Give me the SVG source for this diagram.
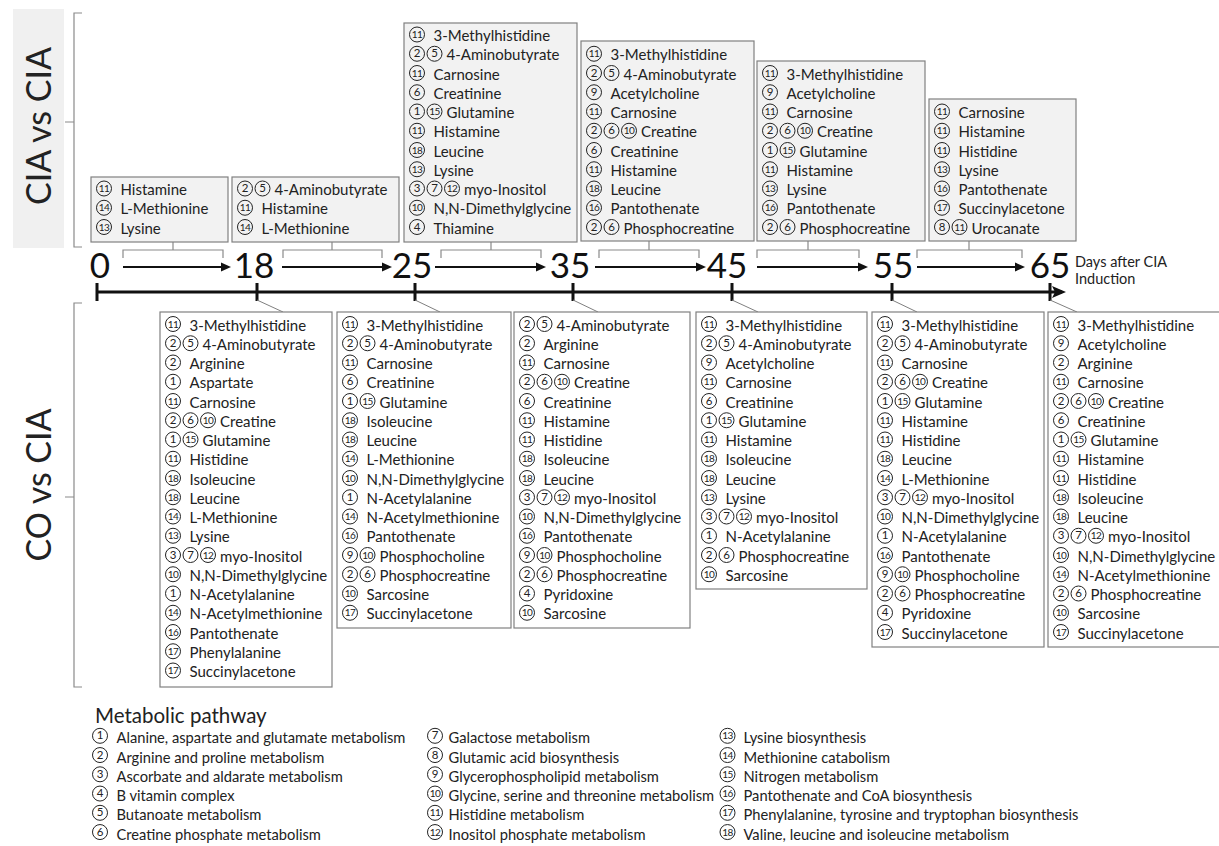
<svg xmlns="http://www.w3.org/2000/svg" width="1219" height="846" viewBox="0 0 1219 846">
<style>
.t{font-family:Lato,"Noto Sans",sans-serif;font-size:15px;fill:#222}
.lt{font-size:14.7px}
.n{font-family:Lato,"Noto Sans",sans-serif;font-size:11.5px;fill:#222;text-anchor:middle}
.d{font-size:10px;letter-spacing:-0.6px}
.big{font-family:Lato,"Noto Sans",sans-serif;font-size:34px;fill:#222}
.num{font-family:Lato,"Noto Sans",sans-serif;font-size:35px;fill:#111}
.bt{fill:#f2f2f2;stroke:#808080;stroke-width:1.2}
.bb{fill:#fff;stroke:#808080;stroke-width:1.2}
.br{fill:none;stroke:#8a8a8a;stroke-width:1.2}
.ar{stroke:#111;stroke-width:2.2;fill:none}
.ax{stroke:#111;stroke-width:3;fill:none}
.dg{stroke:#808080;stroke-width:1;fill:none}
</style>
<defs>
<circle id="k" cx="0" cy="-6.5" r="7.5" fill="none" stroke="#222" stroke-width="1"/>
<marker id="ah" markerWidth="10" markerHeight="10" refX="7" refY="5" orient="auto" markerUnits="userSpaceOnUse"><path d="M0,0.5 L10,5 L0,9.5 z" fill="#111"/></marker>
<marker id="ah2" markerWidth="14" markerHeight="12" refX="10" refY="6" orient="auto" markerUnits="userSpaceOnUse"><path d="M0,0 L14,6 L0,12 L3,6 z" fill="#111"/></marker>
</defs>

<g id="labels">
<rect x="13" y="9" width="51" height="239" fill="#f0f0f0"/>
<text class="big" transform="translate(51,126) rotate(-90)" text-anchor="middle">CIA vs CIA</text>
<text class="big" transform="translate(51,485) rotate(-90)" text-anchor="middle">CO vs CIA</text>
<path class="br" d="M82,13 H74 V247 H82 M74,122 H65"/>
<path class="br" d="M82,303 H74 V687 H82 M74,497 H65"/>
</g>

<g id="axis">
<line class="ax" x1="96" y1="292" x2="1062" y2="292" marker-end="url(#ah2)"/>
<path class="ax" d="M97,283 V301 M257,283 V301 M415,283 V301 M573,283 V301 M732,283 V301 M892,283 V301 M1050,283 V301"/>
<text class="num" x="100" y="278" text-anchor="middle">0</text>
<text class="num" x="254" y="278" text-anchor="middle">18</text>
<text class="num" x="412" y="278" text-anchor="middle">25</text>
<text class="num" x="570" y="278" text-anchor="middle">35</text>
<text class="num" x="727" y="278" text-anchor="middle">45</text>
<text class="num" x="893" y="278" text-anchor="middle">55</text>
<text class="num" x="1050" y="278" text-anchor="middle">65</text>
<text class="t" x="1075" y="267" style="font-size:14.5px">Days after CIA</text>
<text class="t" x="1075" y="284" style="font-size:14.5px">Induction</text>
</g>

<g id="connectors">
<line class="ar" x1="123" y1="267" x2="228" y2="267" marker-end="url(#ah)"/>
<line class="ar" x1="282" y1="267" x2="389" y2="267" marker-end="url(#ah)"/>
<line class="ar" x1="435" y1="267" x2="543" y2="267" marker-end="url(#ah)"/>
<line class="ar" x1="595" y1="267" x2="703" y2="267" marker-end="url(#ah)"/>
<line class="ar" x1="757" y1="267" x2="865" y2="267" marker-end="url(#ah)"/>
<line class="ar" x1="917" y1="267" x2="1022" y2="267" marker-end="url(#ah)"/>
<path class="br" d="M123,258 V250 H223 V258 M173,242 V250"/>
<path class="br" d="M283,258 V250 H382 V258 M332,242 V250"/>
<path class="br" d="M441,258 V250 H541 V258 M491,242 V250"/>
<path class="br" d="M599,258 V250 H699 V258 M649,241 V250"/>
<path class="br" d="M757,258 V250 H859 V258 M808,241 V250"/>
<path class="br" d="M917,258 V250 H1022 V258 M969,241 V250"/>
<path class="dg" d="M257,300 L283,312 M415,300 L440,312 M573,300 L598,312 M732,300 L758,312 M892,300 L917,312 M1050,300 L1077,312"/>
</g>

<g id="t1">
<rect class="bt" x="91" y="177" width="137" height="65"/>
<g transform="translate(104,195)"><use href="#k"/><text class="n" y="-2.9"><tspan class="d">11</tspan></text><text class="t" x="16.5">Histamine</text></g>
<g transform="translate(104,214.25)"><use href="#k"/><text class="n" y="-2.9"><tspan class="d">14</tspan></text><text class="t" x="16.5">L-Methionine</text></g>
<g transform="translate(104,233.5)"><use href="#k"/><text class="n" y="-2.9"><tspan class="d">13</tspan></text><text class="t" x="16.5">Lysine</text></g>
</g>
<g id="t2">
<rect class="bt" x="232" y="177" width="167" height="65"/>
<g transform="translate(245,195)"><use href="#k"/><use href="#k" x="17.5"/><text class="n" y="-2.9"><tspan x="0">2</tspan><tspan x="17.5">5</tspan></text><text class="t" x="29.5">4-Aminobutyrate</text></g>
<g transform="translate(245,214.25)"><use href="#k"/><text class="n" y="-2.9"><tspan class="d">11</tspan></text><text class="t" x="16.5">Histamine</text></g>
<g transform="translate(245,233.5)"><use href="#k"/><text class="n" y="-2.9"><tspan class="d">14</tspan></text><text class="t" x="16.5">L-Methionine</text></g>
</g>
<g id="t3">
<rect class="bt" x="404" y="23" width="173" height="219"/>
<g transform="translate(417,41)"><use href="#k"/><text class="n" y="-2.9"><tspan class="d">11</tspan></text><text class="t" x="16.5">3-Methylhistidine</text></g>
<g transform="translate(417,60.25)"><use href="#k"/><use href="#k" x="17.5"/><text class="n" y="-2.9"><tspan x="0">2</tspan><tspan x="17.5">5</tspan></text><text class="t" x="29.5">4-Aminobutyrate</text></g>
<g transform="translate(417,79.5)"><use href="#k"/><text class="n" y="-2.9"><tspan class="d">11</tspan></text><text class="t" x="16.5">Carnosine</text></g>
<g transform="translate(417,98.75)"><use href="#k"/><text class="n" y="-2.9">6</text><text class="t" x="16.5">Creatinine</text></g>
<g transform="translate(417,118)"><use href="#k"/><use href="#k" x="17.5"/><text class="n" y="-2.9"><tspan x="0">1</tspan><tspan x="17.5" class="d">15</tspan></text><text class="t" x="29.5">Glutamine</text></g>
<g transform="translate(417,137.25)"><use href="#k"/><text class="n" y="-2.9"><tspan class="d">11</tspan></text><text class="t" x="16.5">Histamine</text></g>
<g transform="translate(417,156.5)"><use href="#k"/><text class="n" y="-2.9"><tspan class="d">18</tspan></text><text class="t" x="16.5">Leucine</text></g>
<g transform="translate(417,175.75)"><use href="#k"/><text class="n" y="-2.9"><tspan class="d">13</tspan></text><text class="t" x="16.5">Lysine</text></g>
<g transform="translate(417,195)"><use href="#k"/><use href="#k" x="17.5"/><use href="#k" x="35"/><text class="n" y="-2.9"><tspan x="0">3</tspan><tspan x="17.5">7</tspan><tspan x="35" class="d">12</tspan></text><text class="t" x="47">myo-Inositol</text></g>
<g transform="translate(417,214.25)"><use href="#k"/><text class="n" y="-2.9"><tspan class="d">10</tspan></text><text class="t" x="16.5">N,N-Dimethylglycine</text></g>
<g transform="translate(417,233.5)"><use href="#k"/><text class="n" y="-2.9">4</text><text class="t" x="16.5">Thiamine</text></g>
</g>
<g id="t4">
<rect class="bt" x="581" y="41" width="173" height="200"/>
<g transform="translate(594,60.25)"><use href="#k"/><text class="n" y="-2.9"><tspan class="d">11</tspan></text><text class="t" x="16.5">3-Methylhistidine</text></g>
<g transform="translate(594,79.5)"><use href="#k"/><use href="#k" x="17.5"/><text class="n" y="-2.9"><tspan x="0">2</tspan><tspan x="17.5">5</tspan></text><text class="t" x="29.5">4-Aminobutyrate</text></g>
<g transform="translate(594,98.75)"><use href="#k"/><text class="n" y="-2.9">9</text><text class="t" x="16.5">Acetylcholine</text></g>
<g transform="translate(594,118)"><use href="#k"/><text class="n" y="-2.9"><tspan class="d">11</tspan></text><text class="t" x="16.5">Carnosine</text></g>
<g transform="translate(594,137.25)"><use href="#k"/><use href="#k" x="17.5"/><use href="#k" x="35"/><text class="n" y="-2.9"><tspan x="0">2</tspan><tspan x="17.5">6</tspan><tspan x="35" class="d">10</tspan></text><text class="t" x="47">Creatine</text></g>
<g transform="translate(594,156.5)"><use href="#k"/><text class="n" y="-2.9">6</text><text class="t" x="16.5">Creatinine</text></g>
<g transform="translate(594,175.75)"><use href="#k"/><text class="n" y="-2.9"><tspan class="d">11</tspan></text><text class="t" x="16.5">Histamine</text></g>
<g transform="translate(594,195)"><use href="#k"/><text class="n" y="-2.9"><tspan class="d">18</tspan></text><text class="t" x="16.5">Leucine</text></g>
<g transform="translate(594,214.25)"><use href="#k"/><text class="n" y="-2.9"><tspan class="d">16</tspan></text><text class="t" x="16.5">Pantothenate</text></g>
<g transform="translate(594,233.5)"><use href="#k"/><use href="#k" x="17.5"/><text class="n" y="-2.9"><tspan x="0">2</tspan><tspan x="17.5">6</tspan></text><text class="t" x="29.5">Phosphocreatine</text></g>
</g>
<g id="t5">
<rect class="bt" x="757" y="61" width="168" height="180"/>
<g transform="translate(770,79.5)"><use href="#k"/><text class="n" y="-2.9"><tspan class="d">11</tspan></text><text class="t" x="16.5">3-Methylhistidine</text></g>
<g transform="translate(770,98.75)"><use href="#k"/><text class="n" y="-2.9">9</text><text class="t" x="16.5">Acetylcholine</text></g>
<g transform="translate(770,118)"><use href="#k"/><text class="n" y="-2.9"><tspan class="d">11</tspan></text><text class="t" x="16.5">Carnosine</text></g>
<g transform="translate(770,137.25)"><use href="#k"/><use href="#k" x="17.5"/><use href="#k" x="35"/><text class="n" y="-2.9"><tspan x="0">2</tspan><tspan x="17.5">6</tspan><tspan x="35" class="d">10</tspan></text><text class="t" x="47">Creatine</text></g>
<g transform="translate(770,156.5)"><use href="#k"/><use href="#k" x="17.5"/><text class="n" y="-2.9"><tspan x="0">1</tspan><tspan x="17.5" class="d">15</tspan></text><text class="t" x="29.5">Glutamine</text></g>
<g transform="translate(770,175.75)"><use href="#k"/><text class="n" y="-2.9"><tspan class="d">11</tspan></text><text class="t" x="16.5">Histamine</text></g>
<g transform="translate(770,195)"><use href="#k"/><text class="n" y="-2.9"><tspan class="d">13</tspan></text><text class="t" x="16.5">Lysine</text></g>
<g transform="translate(770,214.25)"><use href="#k"/><text class="n" y="-2.9"><tspan class="d">16</tspan></text><text class="t" x="16.5">Pantothenate</text></g>
<g transform="translate(770,233.5)"><use href="#k"/><use href="#k" x="17.5"/><text class="n" y="-2.9"><tspan x="0">2</tspan><tspan x="17.5">6</tspan></text><text class="t" x="29.5">Phosphocreatine</text></g>
</g>
<g id="t6">
<rect class="bt" x="929" y="99" width="147" height="142"/>
<g transform="translate(942,118)"><use href="#k"/><text class="n" y="-2.9"><tspan class="d">11</tspan></text><text class="t" x="16.5">Carnosine</text></g>
<g transform="translate(942,137.25)"><use href="#k"/><text class="n" y="-2.9"><tspan class="d">11</tspan></text><text class="t" x="16.5">Histamine</text></g>
<g transform="translate(942,156.5)"><use href="#k"/><text class="n" y="-2.9"><tspan class="d">11</tspan></text><text class="t" x="16.5">Histidine</text></g>
<g transform="translate(942,175.75)"><use href="#k"/><text class="n" y="-2.9"><tspan class="d">13</tspan></text><text class="t" x="16.5">Lysine</text></g>
<g transform="translate(942,195)"><use href="#k"/><text class="n" y="-2.9"><tspan class="d">16</tspan></text><text class="t" x="16.5">Pantothenate</text></g>
<g transform="translate(942,214.25)"><use href="#k"/><text class="n" y="-2.9"><tspan class="d">17</tspan></text><text class="t" x="16.5">Succinylacetone</text></g>
<g transform="translate(942,233.5)"><use href="#k"/><use href="#k" x="17.5"/><text class="n" y="-2.9"><tspan x="0">8</tspan><tspan x="17.5" class="d">11</tspan></text><text class="t" x="29.5">Urocanate</text></g>
</g>

<g id="b1">
<rect class="bb" x="160" y="312" width="172" height="375"/>
<g transform="translate(173,330.5)"><use href="#k"/><text class="n" y="-2.9"><tspan class="d">11</tspan></text><text class="t" x="16.5">3-Methylhistidine</text></g>
<g transform="translate(173,349.75)"><use href="#k"/><use href="#k" x="17.5"/><text class="n" y="-2.9"><tspan x="0">2</tspan><tspan x="17.5">5</tspan></text><text class="t" x="29.5">4-Aminobutyrate</text></g>
<g transform="translate(173,369)"><use href="#k"/><text class="n" y="-2.9">2</text><text class="t" x="16.5">Arginine</text></g>
<g transform="translate(173,388.25)"><use href="#k"/><text class="n" y="-2.9">1</text><text class="t" x="16.5">Aspartate</text></g>
<g transform="translate(173,407.5)"><use href="#k"/><text class="n" y="-2.9"><tspan class="d">11</tspan></text><text class="t" x="16.5">Carnosine</text></g>
<g transform="translate(173,426.75)"><use href="#k"/><use href="#k" x="17.5"/><use href="#k" x="35"/><text class="n" y="-2.9"><tspan x="0">2</tspan><tspan x="17.5">6</tspan><tspan x="35" class="d">10</tspan></text><text class="t" x="47">Creatine</text></g>
<g transform="translate(173,446)"><use href="#k"/><use href="#k" x="17.5"/><text class="n" y="-2.9"><tspan x="0">1</tspan><tspan x="17.5" class="d">15</tspan></text><text class="t" x="29.5">Glutamine</text></g>
<g transform="translate(173,465.25)"><use href="#k"/><text class="n" y="-2.9"><tspan class="d">11</tspan></text><text class="t" x="16.5">Histidine</text></g>
<g transform="translate(173,484.5)"><use href="#k"/><text class="n" y="-2.9"><tspan class="d">18</tspan></text><text class="t" x="16.5">Isoleucine</text></g>
<g transform="translate(173,503.75)"><use href="#k"/><text class="n" y="-2.9"><tspan class="d">18</tspan></text><text class="t" x="16.5">Leucine</text></g>
<g transform="translate(173,523)"><use href="#k"/><text class="n" y="-2.9"><tspan class="d">14</tspan></text><text class="t" x="16.5">L-Methionine</text></g>
<g transform="translate(173,542.25)"><use href="#k"/><text class="n" y="-2.9"><tspan class="d">13</tspan></text><text class="t" x="16.5">Lysine</text></g>
<g transform="translate(173,561.5)"><use href="#k"/><use href="#k" x="17.5"/><use href="#k" x="35"/><text class="n" y="-2.9"><tspan x="0">3</tspan><tspan x="17.5">7</tspan><tspan x="35" class="d">12</tspan></text><text class="t" x="47">myo-Inositol</text></g>
<g transform="translate(173,580.75)"><use href="#k"/><text class="n" y="-2.9"><tspan class="d">10</tspan></text><text class="t" x="16.5">N,N-Dimethylglycine</text></g>
<g transform="translate(173,600)"><use href="#k"/><text class="n" y="-2.9">1</text><text class="t" x="16.5">N-Acetylalanine</text></g>
<g transform="translate(173,619.25)"><use href="#k"/><text class="n" y="-2.9"><tspan class="d">14</tspan></text><text class="t" x="16.5">N-Acetylmethionine</text></g>
<g transform="translate(173,638.5)"><use href="#k"/><text class="n" y="-2.9"><tspan class="d">16</tspan></text><text class="t" x="16.5">Pantothenate</text></g>
<g transform="translate(173,657.75)"><use href="#k"/><text class="n" y="-2.9"><tspan class="d">17</tspan></text><text class="t" x="16.5">Phenylalanine</text></g>
<g transform="translate(173,677)"><use href="#k"/><text class="n" y="-2.9"><tspan class="d">17</tspan></text><text class="t" x="16.5">Succinylacetone</text></g>
</g>
<g id="b2">
<rect class="bb" x="337" y="312" width="174" height="316"/>
<g transform="translate(350,330.5)"><use href="#k"/><text class="n" y="-2.9"><tspan class="d">11</tspan></text><text class="t" x="16.5">3-Methylhistidine</text></g>
<g transform="translate(350,349.75)"><use href="#k"/><use href="#k" x="17.5"/><text class="n" y="-2.9"><tspan x="0">2</tspan><tspan x="17.5">5</tspan></text><text class="t" x="29.5">4-Aminobutyrate</text></g>
<g transform="translate(350,369)"><use href="#k"/><text class="n" y="-2.9"><tspan class="d">11</tspan></text><text class="t" x="16.5">Carnosine</text></g>
<g transform="translate(350,388.25)"><use href="#k"/><text class="n" y="-2.9">6</text><text class="t" x="16.5">Creatinine</text></g>
<g transform="translate(350,407.5)"><use href="#k"/><use href="#k" x="17.5"/><text class="n" y="-2.9"><tspan x="0">1</tspan><tspan x="17.5" class="d">15</tspan></text><text class="t" x="29.5">Glutamine</text></g>
<g transform="translate(350,426.75)"><use href="#k"/><text class="n" y="-2.9"><tspan class="d">18</tspan></text><text class="t" x="16.5">Isoleucine</text></g>
<g transform="translate(350,446)"><use href="#k"/><text class="n" y="-2.9"><tspan class="d">18</tspan></text><text class="t" x="16.5">Leucine</text></g>
<g transform="translate(350,465.25)"><use href="#k"/><text class="n" y="-2.9"><tspan class="d">14</tspan></text><text class="t" x="16.5">L-Methionine</text></g>
<g transform="translate(350,484.5)"><use href="#k"/><text class="n" y="-2.9"><tspan class="d">10</tspan></text><text class="t" x="16.5">N,N-Dimethylglycine</text></g>
<g transform="translate(350,503.75)"><use href="#k"/><text class="n" y="-2.9">1</text><text class="t" x="16.5">N-Acetylalanine</text></g>
<g transform="translate(350,523)"><use href="#k"/><text class="n" y="-2.9"><tspan class="d">14</tspan></text><text class="t" x="16.5">N-Acetylmethionine</text></g>
<g transform="translate(350,542.25)"><use href="#k"/><text class="n" y="-2.9"><tspan class="d">16</tspan></text><text class="t" x="16.5">Pantothenate</text></g>
<g transform="translate(350,561.5)"><use href="#k"/><use href="#k" x="17.5"/><text class="n" y="-2.9"><tspan x="0">9</tspan><tspan x="17.5" class="d">10</tspan></text><text class="t" x="29.5">Phosphocholine</text></g>
<g transform="translate(350,580.75)"><use href="#k"/><use href="#k" x="17.5"/><text class="n" y="-2.9"><tspan x="0">2</tspan><tspan x="17.5">6</tspan></text><text class="t" x="29.5">Phosphocreatine</text></g>
<g transform="translate(350,600)"><use href="#k"/><text class="n" y="-2.9"><tspan class="d">10</tspan></text><text class="t" x="16.5">Sarcosine</text></g>
<g transform="translate(350,619.25)"><use href="#k"/><text class="n" y="-2.9"><tspan class="d">17</tspan></text><text class="t" x="16.5">Succinylacetone</text></g>
</g>
<g id="b3">
<rect class="bb" x="514" y="312" width="176" height="316"/>
<g transform="translate(527,330.5)"><use href="#k"/><use href="#k" x="17.5"/><text class="n" y="-2.9"><tspan x="0">2</tspan><tspan x="17.5">5</tspan></text><text class="t" x="29.5">4-Aminobutyrate</text></g>
<g transform="translate(527,349.75)"><use href="#k"/><text class="n" y="-2.9">2</text><text class="t" x="16.5">Arginine</text></g>
<g transform="translate(527,369)"><use href="#k"/><text class="n" y="-2.9"><tspan class="d">11</tspan></text><text class="t" x="16.5">Carnosine</text></g>
<g transform="translate(527,388.25)"><use href="#k"/><use href="#k" x="17.5"/><use href="#k" x="35"/><text class="n" y="-2.9"><tspan x="0">2</tspan><tspan x="17.5">6</tspan><tspan x="35" class="d">10</tspan></text><text class="t" x="47">Creatine</text></g>
<g transform="translate(527,407.5)"><use href="#k"/><text class="n" y="-2.9">6</text><text class="t" x="16.5">Creatinine</text></g>
<g transform="translate(527,426.75)"><use href="#k"/><text class="n" y="-2.9"><tspan class="d">11</tspan></text><text class="t" x="16.5">Histamine</text></g>
<g transform="translate(527,446)"><use href="#k"/><text class="n" y="-2.9"><tspan class="d">11</tspan></text><text class="t" x="16.5">Histidine</text></g>
<g transform="translate(527,465.25)"><use href="#k"/><text class="n" y="-2.9"><tspan class="d">18</tspan></text><text class="t" x="16.5">Isoleucine</text></g>
<g transform="translate(527,484.5)"><use href="#k"/><text class="n" y="-2.9"><tspan class="d">18</tspan></text><text class="t" x="16.5">Leucine</text></g>
<g transform="translate(527,503.75)"><use href="#k"/><use href="#k" x="17.5"/><use href="#k" x="35"/><text class="n" y="-2.9"><tspan x="0">3</tspan><tspan x="17.5">7</tspan><tspan x="35" class="d">12</tspan></text><text class="t" x="47">myo-Inositol</text></g>
<g transform="translate(527,523)"><use href="#k"/><text class="n" y="-2.9"><tspan class="d">10</tspan></text><text class="t" x="16.5">N,N-Dimethylglycine</text></g>
<g transform="translate(527,542.25)"><use href="#k"/><text class="n" y="-2.9"><tspan class="d">16</tspan></text><text class="t" x="16.5">Pantothenate</text></g>
<g transform="translate(527,561.5)"><use href="#k"/><use href="#k" x="17.5"/><text class="n" y="-2.9"><tspan x="0">9</tspan><tspan x="17.5" class="d">10</tspan></text><text class="t" x="29.5">Phosphocholine</text></g>
<g transform="translate(527,580.75)"><use href="#k"/><use href="#k" x="17.5"/><text class="n" y="-2.9"><tspan x="0">2</tspan><tspan x="17.5">6</tspan></text><text class="t" x="29.5">Phosphocreatine</text></g>
<g transform="translate(527,600)"><use href="#k"/><text class="n" y="-2.9">4</text><text class="t" x="16.5">Pyridoxine</text></g>
<g transform="translate(527,619.25)"><use href="#k"/><text class="n" y="-2.9"><tspan class="d">10</tspan></text><text class="t" x="16.5">Sarcosine</text></g>
</g>
<g id="b4">
<rect class="bb" x="696" y="312" width="171" height="277"/>
<g transform="translate(709,330.5)"><use href="#k"/><text class="n" y="-2.9"><tspan class="d">11</tspan></text><text class="t" x="16.5">3-Methylhistidine</text></g>
<g transform="translate(709,349.75)"><use href="#k"/><use href="#k" x="17.5"/><text class="n" y="-2.9"><tspan x="0">2</tspan><tspan x="17.5">5</tspan></text><text class="t" x="29.5">4-Aminobutyrate</text></g>
<g transform="translate(709,369)"><use href="#k"/><text class="n" y="-2.9">9</text><text class="t" x="16.5">Acetylcholine</text></g>
<g transform="translate(709,388.25)"><use href="#k"/><text class="n" y="-2.9"><tspan class="d">11</tspan></text><text class="t" x="16.5">Carnosine</text></g>
<g transform="translate(709,407.5)"><use href="#k"/><text class="n" y="-2.9">6</text><text class="t" x="16.5">Creatinine</text></g>
<g transform="translate(709,426.75)"><use href="#k"/><use href="#k" x="17.5"/><text class="n" y="-2.9"><tspan x="0">1</tspan><tspan x="17.5" class="d">15</tspan></text><text class="t" x="29.5">Glutamine</text></g>
<g transform="translate(709,446)"><use href="#k"/><text class="n" y="-2.9"><tspan class="d">11</tspan></text><text class="t" x="16.5">Histamine</text></g>
<g transform="translate(709,465.25)"><use href="#k"/><text class="n" y="-2.9"><tspan class="d">18</tspan></text><text class="t" x="16.5">Isoleucine</text></g>
<g transform="translate(709,484.5)"><use href="#k"/><text class="n" y="-2.9"><tspan class="d">18</tspan></text><text class="t" x="16.5">Leucine</text></g>
<g transform="translate(709,503.75)"><use href="#k"/><text class="n" y="-2.9"><tspan class="d">13</tspan></text><text class="t" x="16.5">Lysine</text></g>
<g transform="translate(709,523)"><use href="#k"/><use href="#k" x="17.5"/><use href="#k" x="35"/><text class="n" y="-2.9"><tspan x="0">3</tspan><tspan x="17.5">7</tspan><tspan x="35" class="d">12</tspan></text><text class="t" x="47">myo-Inositol</text></g>
<g transform="translate(709,542.25)"><use href="#k"/><text class="n" y="-2.9">1</text><text class="t" x="16.5">N-Acetylalanine</text></g>
<g transform="translate(709,561.5)"><use href="#k"/><use href="#k" x="17.5"/><text class="n" y="-2.9"><tspan x="0">2</tspan><tspan x="17.5">6</tspan></text><text class="t" x="29.5">Phosphocreatine</text></g>
<g transform="translate(709,580.75)"><use href="#k"/><text class="n" y="-2.9"><tspan class="d">10</tspan></text><text class="t" x="16.5">Sarcosine</text></g>
</g>
<g id="b5">
<rect class="bb" x="872" y="312" width="172" height="335"/>
<g transform="translate(885,330.5)"><use href="#k"/><text class="n" y="-2.9"><tspan class="d">11</tspan></text><text class="t" x="16.5">3-Methylhistidine</text></g>
<g transform="translate(885,349.75)"><use href="#k"/><use href="#k" x="17.5"/><text class="n" y="-2.9"><tspan x="0">2</tspan><tspan x="17.5">5</tspan></text><text class="t" x="29.5">4-Aminobutyrate</text></g>
<g transform="translate(885,369)"><use href="#k"/><text class="n" y="-2.9"><tspan class="d">11</tspan></text><text class="t" x="16.5">Carnosine</text></g>
<g transform="translate(885,388.25)"><use href="#k"/><use href="#k" x="17.5"/><use href="#k" x="35"/><text class="n" y="-2.9"><tspan x="0">2</tspan><tspan x="17.5">6</tspan><tspan x="35" class="d">10</tspan></text><text class="t" x="47">Creatine</text></g>
<g transform="translate(885,407.5)"><use href="#k"/><use href="#k" x="17.5"/><text class="n" y="-2.9"><tspan x="0">1</tspan><tspan x="17.5" class="d">15</tspan></text><text class="t" x="29.5">Glutamine</text></g>
<g transform="translate(885,426.75)"><use href="#k"/><text class="n" y="-2.9"><tspan class="d">11</tspan></text><text class="t" x="16.5">Histamine</text></g>
<g transform="translate(885,446)"><use href="#k"/><text class="n" y="-2.9"><tspan class="d">11</tspan></text><text class="t" x="16.5">Histidine</text></g>
<g transform="translate(885,465.25)"><use href="#k"/><text class="n" y="-2.9"><tspan class="d">18</tspan></text><text class="t" x="16.5">Leucine</text></g>
<g transform="translate(885,484.5)"><use href="#k"/><text class="n" y="-2.9"><tspan class="d">14</tspan></text><text class="t" x="16.5">L-Methionine</text></g>
<g transform="translate(885,503.75)"><use href="#k"/><use href="#k" x="17.5"/><use href="#k" x="35"/><text class="n" y="-2.9"><tspan x="0">3</tspan><tspan x="17.5">7</tspan><tspan x="35" class="d">12</tspan></text><text class="t" x="47">myo-Inositol</text></g>
<g transform="translate(885,523)"><use href="#k"/><text class="n" y="-2.9"><tspan class="d">10</tspan></text><text class="t" x="16.5">N,N-Dimethylglycine</text></g>
<g transform="translate(885,542.25)"><use href="#k"/><text class="n" y="-2.9">1</text><text class="t" x="16.5">N-Acetylalanine</text></g>
<g transform="translate(885,561.5)"><use href="#k"/><text class="n" y="-2.9"><tspan class="d">16</tspan></text><text class="t" x="16.5">Pantothenate</text></g>
<g transform="translate(885,580.75)"><use href="#k"/><use href="#k" x="17.5"/><text class="n" y="-2.9"><tspan x="0">9</tspan><tspan x="17.5" class="d">10</tspan></text><text class="t" x="29.5">Phosphocholine</text></g>
<g transform="translate(885,600)"><use href="#k"/><use href="#k" x="17.5"/><text class="n" y="-2.9"><tspan x="0">2</tspan><tspan x="17.5">6</tspan></text><text class="t" x="29.5">Phosphocreatine</text></g>
<g transform="translate(885,619.25)"><use href="#k"/><text class="n" y="-2.9">4</text><text class="t" x="16.5">Pyridoxine</text></g>
<g transform="translate(885,638.5)"><use href="#k"/><text class="n" y="-2.9"><tspan class="d">17</tspan></text><text class="t" x="16.5">Succinylacetone</text></g>
</g>
<g id="b6">
<rect class="bb" x="1048" y="312" width="175" height="335"/>
<g transform="translate(1061,330.5)"><use href="#k"/><text class="n" y="-2.9"><tspan class="d">11</tspan></text><text class="t" x="16.5">3-Methylhistidine</text></g>
<g transform="translate(1061,349.75)"><use href="#k"/><text class="n" y="-2.9">9</text><text class="t" x="16.5">Acetylcholine</text></g>
<g transform="translate(1061,369)"><use href="#k"/><text class="n" y="-2.9">2</text><text class="t" x="16.5">Arginine</text></g>
<g transform="translate(1061,388.25)"><use href="#k"/><text class="n" y="-2.9"><tspan class="d">11</tspan></text><text class="t" x="16.5">Carnosine</text></g>
<g transform="translate(1061,407.5)"><use href="#k"/><use href="#k" x="17.5"/><use href="#k" x="35"/><text class="n" y="-2.9"><tspan x="0">2</tspan><tspan x="17.5">6</tspan><tspan x="35" class="d">10</tspan></text><text class="t" x="47">Creatine</text></g>
<g transform="translate(1061,426.75)"><use href="#k"/><text class="n" y="-2.9">6</text><text class="t" x="16.5">Creatinine</text></g>
<g transform="translate(1061,446)"><use href="#k"/><use href="#k" x="17.5"/><text class="n" y="-2.9"><tspan x="0">1</tspan><tspan x="17.5" class="d">15</tspan></text><text class="t" x="29.5">Glutamine</text></g>
<g transform="translate(1061,465.25)"><use href="#k"/><text class="n" y="-2.9"><tspan class="d">11</tspan></text><text class="t" x="16.5">Histamine</text></g>
<g transform="translate(1061,484.5)"><use href="#k"/><text class="n" y="-2.9"><tspan class="d">11</tspan></text><text class="t" x="16.5">Histidine</text></g>
<g transform="translate(1061,503.75)"><use href="#k"/><text class="n" y="-2.9"><tspan class="d">18</tspan></text><text class="t" x="16.5">Isoleucine</text></g>
<g transform="translate(1061,523)"><use href="#k"/><text class="n" y="-2.9"><tspan class="d">18</tspan></text><text class="t" x="16.5">Leucine</text></g>
<g transform="translate(1061,542.25)"><use href="#k"/><use href="#k" x="17.5"/><use href="#k" x="35"/><text class="n" y="-2.9"><tspan x="0">3</tspan><tspan x="17.5">7</tspan><tspan x="35" class="d">12</tspan></text><text class="t" x="47">myo-Inositol</text></g>
<g transform="translate(1061,561.5)"><use href="#k"/><text class="n" y="-2.9"><tspan class="d">10</tspan></text><text class="t" x="16.5">N,N-Dimethylglycine</text></g>
<g transform="translate(1061,580.75)"><use href="#k"/><text class="n" y="-2.9"><tspan class="d">14</tspan></text><text class="t" x="16.5">N-Acetylmethionine</text></g>
<g transform="translate(1061,600)"><use href="#k"/><use href="#k" x="17.5"/><text class="n" y="-2.9"><tspan x="0">2</tspan><tspan x="17.5">6</tspan></text><text class="t" x="29.5">Phosphocreatine</text></g>
<g transform="translate(1061,619.25)"><use href="#k"/><text class="n" y="-2.9"><tspan class="d">10</tspan></text><text class="t" x="16.5">Sarcosine</text></g>
<g transform="translate(1061,638.5)"><use href="#k"/><text class="n" y="-2.9"><tspan class="d">17</tspan></text><text class="t" x="16.5">Succinylacetone</text></g>
</g>

<g id="legend">
<text class="t" x="95" y="723" style="font-size:20.5px">Metabolic pathway</text>
<g transform="translate(100,742.3)"><use href="#k"/><text class="n" y="-2.9">1</text><text class="t lt" x="16.5" y="1">Alanine, aspartate and glutamate metabolism</text></g>
<g transform="translate(100,761.55)"><use href="#k"/><text class="n" y="-2.9">2</text><text class="t lt" x="16.5" y="1">Arginine and proline metabolism</text></g>
<g transform="translate(100,780.8)"><use href="#k"/><text class="n" y="-2.9">3</text><text class="t lt" x="16.5" y="1">Ascorbate and aldarate metabolism</text></g>
<g transform="translate(100,800.05)"><use href="#k"/><text class="n" y="-2.9">4</text><text class="t lt" x="16.5" y="1">B vitamin complex</text></g>
<g transform="translate(100,819.3)"><use href="#k"/><text class="n" y="-2.9">5</text><text class="t lt" x="16.5" y="1">Butanoate metabolism</text></g>
<g transform="translate(100,838.55)"><use href="#k"/><text class="n" y="-2.9">6</text><text class="t lt" x="16.5" y="1">Creatine phosphate metabolism</text></g>
<g transform="translate(435,742.3)"><use href="#k"/><text class="n" y="-2.9">7</text><text class="t lt" x="13.5" y="1">Galactose metabolism</text></g>
<g transform="translate(435,761.55)"><use href="#k"/><text class="n" y="-2.9">8</text><text class="t lt" x="13.5" y="1">Glutamic acid biosynthesis</text></g>
<g transform="translate(435,780.8)"><use href="#k"/><text class="n" y="-2.9">9</text><text class="t lt" x="13.5" y="1">Glycerophospholipid metabolism</text></g>
<g transform="translate(435,800.05)"><use href="#k"/><text class="n" y="-2.9"><tspan class="d">10</tspan></text><text class="t lt" x="13.5" y="1">Glycine, serine and threonine metabolism</text></g>
<g transform="translate(435,819.3)"><use href="#k"/><text class="n" y="-2.9"><tspan class="d">11</tspan></text><text class="t lt" x="13.5" y="1">Histidine metabolism</text></g>
<g transform="translate(435,838.55)"><use href="#k"/><text class="n" y="-2.9"><tspan class="d">12</tspan></text><text class="t lt" x="13.5" y="1">Inositol phosphate metabolism</text></g>
<g transform="translate(727.5,742.3)"><use href="#k"/><text class="n" y="-2.9"><tspan class="d">13</tspan></text><text class="t lt" x="16" y="1">Lysine biosynthesis</text></g>
<g transform="translate(727.5,761.55)"><use href="#k"/><text class="n" y="-2.9"><tspan class="d">14</tspan></text><text class="t lt" x="16" y="1">Methionine catabolism</text></g>
<g transform="translate(727.5,780.8)"><use href="#k"/><text class="n" y="-2.9"><tspan class="d">15</tspan></text><text class="t lt" x="16" y="1">Nitrogen metabolism</text></g>
<g transform="translate(727.5,800.05)"><use href="#k"/><text class="n" y="-2.9"><tspan class="d">16</tspan></text><text class="t lt" x="16" y="1">Pantothenate and CoA biosynthesis</text></g>
<g transform="translate(727.5,819.3)"><use href="#k"/><text class="n" y="-2.9"><tspan class="d">17</tspan></text><text class="t lt" x="16" y="1">Phenylalanine, tyrosine and tryptophan biosynthesis</text></g>
<g transform="translate(727.5,838.55)"><use href="#k"/><text class="n" y="-2.9"><tspan class="d">18</tspan></text><text class="t lt" x="16" y="1">Valine, leucine and isoleucine metabolism</text></g>
</g>
</svg>
